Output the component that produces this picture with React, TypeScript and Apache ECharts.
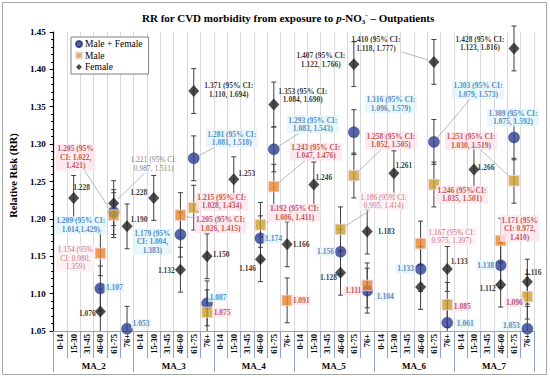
import React, { useEffect, useRef } from 'react';
import * as echarts from 'echarts';

// ---- categories ----
const AGE_BANDS = ['0-14', '15-30', '31-45', '46-60', '61-75', '76+'];
const LAGS = ['MA_2', 'MA_3', 'MA_4', 'MA_5', 'MA_6', 'MA_7'];
const CATEGORIES = LAGS.flatMap(() => AGE_BANDS);

// ---- values (null = below the visible range 1.05) ----
const N = null;
const MF_RR = [
  N, N, N, 1.107, 1.209, 1.053,
  N, N, N, 1.179, 1.281, 1.087,
  N, N, N, 1.174, 1.293, N,
  N, N, N, 1.156, 1.316, 1.104,
  N, N, N, 1.133, 1.303, 1.061,
  N, N, N, 1.138, 1.309, 1.053,
];
const MALE_RR = [
  N, N, N, 1.154, 1.205, N,
  N, N, N, 1.205, 1.215, 1.075,
  N, N, N, 1.192, 1.243, 1.091,
  N, N, N, 1.186, 1.258, 1.111,
  N, N, N, 1.167, 1.246, 1.085,
  N, N, N, 1.171, 1.251, 1.096,
];
const FEMALE_RR = [
  N, 1.228, N, 1.076, 1.221, 1.190,
  N, 1.228, N, 1.132, 1.371, 1.150,
  N, 1.253, N, 1.146, 1.353, 1.166,
  N, 1.246, N, 1.128, 1.407, 1.183,
  N, 1.261, N, 1.109, 1.410, 1.133,
  N, 1.266, N, 1.112, 1.428, 1.116,
];

// ---- label texts ----
const MF_LABELS: Record<number, string> = {
  3: '1.107', 4: '1.209 (95% CI:\n1.014,1.429)', 5: '1.053',
  9: '1.179 (95%\nCI: 1.004,\n1.383)', 10: '1.281 (95% CI:\n1.081, 1.518)', 11: '1.087',
  15: '1.174', 16: '1.293 (95% CI:\n1.083, 1.543)',
  21: '1.156', 22: '1.316 (95% CI:\n1.096, 1.579)', 23: '1.104',
  27: '1.133', 28: '1.303 (95% CI:\n1.079, 1.573)', 29: '1.061',
  33: '1.138', 34: '1.309 (95% CI:\n1.075, 1.592)', 35: '1.053',
};
const MALE_LABELS: Record<number, string> = {
  3: '1.154 (95%\nCI: 0.980,\n1.359)', 4: '1.205 (95%\nCI: 1.022,\n1.421)',
  9: '1.205 (95% CI:\n1.026, 1.415)', 10: '1.215 (95% CI:\n1.028, 1.434)', 11: '1.075',
  15: '1.192 (95% CI:\n1.006, 1.411)', 16: '1.243 (95% CI:\n1.047, 1.476)', 17: '1.091',
  21: '1.186 (95% CI:\n0.995, 1.414)', 22: '1.258 (95% CI:\n1.052, 1.505)', 23: '1.111',
  27: '1.167 (95% CI:\n0.975, 1.397)', 28: '1.246 (95% CI:\n1.035, 1.501)', 29: '1.085',
  33: '1.171 (95%\nCI: 0.972,\n1.410)', 34: '1.251 (95% CI:\n1.030, 1.519)', 35: '1.096',
};
const FEMALE_LABELS: Record<number, string> = {
  1: '1.228', 3: '1.076', 4: '1.221 (95% CI:\n0.987, 1.511)', 5: '1.190',
  7: '1.228', 9: '1.132', 10: '1.371 (95% CI:\n1.110, 1.694)', 11: '1.150',
  13: '1.253', 15: '1.146', 16: '1.353 (95% CI:\n1.084, 1.690)', 17: '1.166',
  19: '1.246', 21: '1.128', 22: '1.407 (95% CI:\n1.122, 1.766)', 23: '1.183',
  25: '1.261', 28: '1.410 (95% CI:\n1.118, 1.777)', 29: '1.133',
  31: '1.266', 33: '1.112', 34: '1.428 (95% CI:\n1.123, 1.816)', 35: '1.116',
};
// non-significant labels (drawn in plain weight)
const MALE_NS = [3, 21, 27];
const FEMALE_NS = [4];

// ---- layout / style (offsets of label centre from marker centre, leader line flag) ----
type Off = [number, number, boolean?];
const MF_POS: Record<number, Off> = {
  3: [14, -1], 4: [-33, 13], 5: [14, -5],
  9: [-28, 7], 10: [38, -20, true], 11: [11, -6],
  15: [13, 0], 16: [39, -25, true],
  21: [-15, 0], 22: [37, -28], 23: [18, 6],
  27: [-15, 0], 28: [44, -52, true], 29: [18, 1],
  33: [-15, 0], 34: [-1, -20], 35: [-16, -3],
};
const MALE_POS: Record<number, Off> = {
  3: [-25, 5], 4: [-38, -58, true],
  9: [40, 9, true], 10: [28, -6], 11: [15, 0],
  15: [34, -12, true], 16: [42, -35, true], 17: [14, 0],
  21: [43, -28, true], 22: [37, -35, true], 23: [-14, 5],
  27: [31, -7], 28: [28, 10], 29: [15, 2],
  33: [19, -12], 34: [-43, -40, true], 35: [-13, 6],
};
const FEMALE_POS: Record<number, Off> = {
  1: [8, -10], 3: [-13, 2], 4: [40, -39, true], 5: [12, -7],
  7: [-15, -5], 9: [-14, 1], 10: [35, -1], 11: [14, -2],
  13: [13, -6], 15: [-13, 9], 16: [29, -9], 17: [14, 0],
  19: [10, -7], 21: [-12, 5], 22: [-33, -4], 23: [19, 0],
  25: [10, -8], 28: [-58, -18, true], 29: [12, -7],
  31: [12, -2], 33: [-13, 4], 34: [-34, -5], 35: [6, -9],
};
const MALE_ORANGE = [3, 9, 16, 17, 23, 27, 33];

const Y_MIN = 1.05;
const Y_MAX = 1.45;
const Y_STEP = 0.05;
const ERR_HALF = 0.03; // fixed error-bar half length used in the figure

const FONT = "'Liberation Serif', 'Times New Roman', serif";
const BLUE = '#2E3E92';
const GOLD = '#C9A02C';
const ORANGE = '#E8832A';
const AXIS_BLUE = '#8FA3CC';
const LABEL_FS = 7.5;
const LABEL_LH = 8.5;

function labelStyle(kind: 'mf' | 'm' | 'mns' | 'f' | 'fns') {
  const base: any = {
    fontFamily: FONT, fontSize: LABEL_FS, lineHeight: LABEL_LH, position: 'inside',
    align: 'center', verticalAlign: 'middle', textBorderWidth: 0, padding: [0.5, 1.5],
  };
  if (kind === 'mf') return { ...base, color: '#2F6EBA', fontWeight: 'bold', backgroundColor: '#E1F5F9' };
  if (kind === 'm') return { ...base, color: '#B22E2E', fontWeight: 'bold', backgroundColor: '#FCE4EA' };
  if (kind === 'mns') return { ...base, color: '#C0504D', fontWeight: 'normal', backgroundColor: '#FDF0F3' };
  if (kind === 'fns') return { ...base, color: '#595959', fontWeight: 'normal' };
  return { ...base, color: '#000', fontWeight: 'bold' };
}

function buildData(
  values: (number | null)[],
  labels: Record<number, string>,
  kindOf: (i: number) => any,
  colorOf?: (i: number) => string | undefined,
) {
  return values.map((v, i) => {
    if (v == null) return '-';
    const item: any = { value: v };
    if (labels[i]) {
      item.label = { show: true, formatter: labels[i], ...labelStyle(kindOf(i)) };
    } else {
      item.label = { show: false };
    }
    const c = colorOf ? colorOf(i) : undefined;
    if (c) item.itemStyle = { color: c };
    return item;
  });
}

function layoutFrom(pos: Record<number, Off>) {
  return (p: any) => {
    const o = pos[p.dataIndex];
    return o ? { dx: o[0], dy: o[1] } : {};
  };
}

// leader-line records: [categoryIndex, value, dx, dy, halfWidth, halfHeight]
function leaderRecords(values: (number | null)[], labels: Record<number, string>, pos: Record<number, Off>) {
  const out: number[][] = [];
  Object.keys(pos).forEach((k) => {
    const i = Number(k);
    const o = pos[i];
    const v = values[i];
    if (!o[2] || v == null || !labels[i]) return;
    const lines = labels[i].split('\n');
    const maxLen = Math.max(...lines.map((l) => l.length));
    out.push([i, v, o[0], o[1], maxLen * 1.72 + 1.5, (lines.length * LABEL_LH) / 2 + 0.5]);
  });
  return out;
}

export default function App() {
  const ref = useRef<HTMLDivElement>(null);
  useEffect(() => {
    if (!ref.current) return;
    const chart = echarts.init(ref.current, null, { renderer: 'svg' });

    const errData: number[][] = [];
    [MF_RR, MALE_RR, FEMALE_RR].forEach((arr) =>
      arr.forEach((v, i) => {
        if (v != null) errData.push([i, v - ERR_HALF, v + ERR_HALF]);
      }),
    );
    const leaderData = [
      ...leaderRecords(MF_RR, MF_LABELS, MF_POS),
      ...leaderRecords(MALE_RR, MALE_LABELS, MALE_POS),
      ...leaderRecords(FEMALE_RR, FEMALE_LABELS, FEMALE_POS),
    ];

    const option: any = {
      animation: false,
      backgroundColor: '#fff',
      textStyle: { fontFamily: FONT },
      title: {
        text: '{b|RR for CVD morbidity from exposure to }{i|p}{b|-NO}{s|3}{u|-}{b| \u2013 Outpatients}',
        left: 137,
        top: 6,
        textStyle: {
          rich: {
            b: { fontFamily: FONT, fontSize: 11, fontWeight: 'bold', color: '#000', lineHeight: 14 },
            i: { fontFamily: FONT, fontSize: 11, fontWeight: 'bold', fontStyle: 'italic', color: '#000', lineHeight: 14 },
            s: { fontFamily: FONT, fontSize: 7, fontWeight: 'bold', color: '#000', verticalAlign: 'bottom', lineHeight: 14 },
            u: { fontFamily: FONT, fontSize: 7, fontWeight: 'bold', color: '#000', verticalAlign: 'top', lineHeight: 14 },
          },
        },
      },
      legend: {
        data: ['Male + Female', 'Male', 'Female'],
        orient: 'vertical',
        left: 71,
        top: 37,
        itemWidth: 6,
        itemHeight: 6,
        itemGap: 1.5,
        padding: [2, 6, 2, 4],
        borderColor: '#7F7F7F',
        borderWidth: 1,
        backgroundColor: '#fff',
        textStyle: { fontFamily: FONT, fontSize: 9.5, color: '#000', padding: [0, 0, 0, -2] },
      },
      grid: { left: 42, right: 16, top: 32, bottom: 46, containLabel: false },
      xAxis: [
        {
          type: 'category',
          data: CATEGORIES,
          position: 'bottom',
          axisLine: { show: true, onZero: false, lineStyle: { color: AXIS_BLUE, width: 1 } },
          axisTick: { show: true, length: 27, lineStyle: { color: AXIS_BLUE } },
          axisLabel: { interval: 0, rotate: 90, margin: 3, fontSize: 8.5, fontWeight: 'bold', color: '#000', fontFamily: FONT },
          splitLine: { show: true, lineStyle: { color: '#D9D9D9', width: 1 } },
        },
        {
          type: 'category',
          data: LAGS,
          position: 'bottom',
          offset: 0,
          axisLine: { show: false },
          axisTick: { show: true, length: 41, lineStyle: { color: AXIS_BLUE } },
          axisLabel: { interval: 0, margin: 30, fontSize: 9, fontWeight: 'bold', color: '#000', fontFamily: FONT },
          splitLine: { show: false },
        },
      ],
      yAxis: {
        type: 'value',
        min: Y_MIN,
        max: Y_MAX,
        interval: Y_STEP,
        name: 'Relative Risk (RR)',
        nameLocation: 'middle',
        nameGap: 29,
        nameTextStyle: { fontFamily: FONT, fontSize: 10.5, fontWeight: 'bold', color: '#000', padding: [0, 0, 0, 12] },
        axisLine: { show: true, lineStyle: { color: '#000', width: 1.2 } },
        axisTick: { show: true, length: 4, lineStyle: { color: '#000' } },
        minorTick: { show: true, splitNumber: 5, length: 2.5, lineStyle: { color: '#000' } },
        axisLabel: {
          formatter: (v: number) => v.toFixed(2),
          fontFamily: FONT, fontSize: 9, fontWeight: 'bold', color: '#000', margin: 8,
        },
        splitLine: { show: false },
      },
      series: [
        {
          type: 'custom',
          name: 'errorbars',
          xAxisIndex: 0,
          z: 1,
          clip: false,
          silent: true,
          encode: { x: 0, y: [1, 2] },
          data: errData,
          renderItem: (params: any, api: any) => {
            const i = api.value(0);
            const loRaw = api.value(1);
            const lo = Math.max(loRaw, Y_MIN);
            const hi = api.value(2);
            const top = api.coord([i, hi]);
            const bot = api.coord([i, lo]);
            const w = 2.5;
            const style = { stroke: '#3F3F3F', lineWidth: 1 };
            const children: any[] = [
              { type: 'line', shape: { x1: top[0], y1: top[1], x2: bot[0], y2: bot[1] }, style },
              { type: 'line', shape: { x1: top[0] - w, y1: top[1], x2: top[0] + w, y2: top[1] }, style },
            ];
            if (loRaw >= Y_MIN) {
              children.push({ type: 'line', shape: { x1: bot[0] - w, y1: bot[1], x2: bot[0] + w, y2: bot[1] }, style });
            }
            return { type: 'group', children };
          },
        },
        {
          type: 'custom',
          name: 'leaders',
          xAxisIndex: 0,
          z: 2,
          clip: false,
          silent: true,
          encode: { x: 0, y: 1 },
          data: leaderData,
          renderItem: (params: any, api: any) => {
            const p = api.coord([api.value(0), api.value(1)]);
            const dx = api.value(2);
            const dy = api.value(3);
            const hw = api.value(4);
            const hh = api.value(5);
            const len = Math.sqrt(dx * dx + dy * dy) || 1;
            const ux = dx / len;
            const uy = dy / len;
            const t = Math.min(dx !== 0 ? hw / Math.abs(dx) : Infinity, dy !== 0 ? hh / Math.abs(dy) : Infinity);
            const ex = p[0] + dx - dx * t;
            const ey = p[1] + dy - dy * t;
            return {
              type: 'line',
              shape: { x1: p[0] + ux * 6, y1: p[1] + uy * 6, x2: ex, y2: ey },
              style: { stroke: '#A6A6A6', lineWidth: 0.8 },
            };
          },
        },
        {
          type: 'scatter',
          name: 'Female',
          xAxisIndex: 0,
          z: 3,
          symbol: 'diamond',
          symbolSize: [11, 12],
          itemStyle: { color: '#1F1F1F' },
          data: buildData(FEMALE_RR, FEMALE_LABELS, (i) => (FEMALE_NS.includes(i) ? 'fns' : 'f')),
          labelLayout: layoutFrom(FEMALE_POS),
        },
        {
          type: 'scatter',
          name: 'Male + Female',
          xAxisIndex: 0,
          z: 4,
          symbol: 'circle',
          symbolSize: 11,
          itemStyle: { color: BLUE, borderColor: '#1F2A6B', borderWidth: 0.5 },
          data: buildData(MF_RR, MF_LABELS, () => 'mf'),
          labelLayout: layoutFrom(MF_POS),
        },
        {
          type: 'scatter',
          name: 'Male',
          xAxisIndex: 0,
          z: 5,
          symbol: 'rect',
          symbolSize: 10.5,
          itemStyle: { color: GOLD, borderColor: '#F6CCD6', borderWidth: 1 },
          data: buildData(
            MALE_RR, MALE_LABELS,
            (i) => (MALE_NS.includes(i) ? 'mns' : 'm'),
            (i) => (MALE_ORANGE.includes(i) ? ORANGE : undefined),
          ),
          labelLayout: layoutFrom(MALE_POS),
        },
      ],
      graphic: [
        {
          type: 'rect',
          z: 100,
          silent: true,
          shape: { x: 2.5, y: 2.5, width: 544, height: 372 },
          style: { fill: 'none', stroke: '#A6A6A6', lineWidth: 1 },
        },
      ],
    };
    chart.setOption(option);
    return () => chart.dispose();
  }, []);

  return (
    <div
      ref={ref}
      style={{ position: 'absolute', left: 0, top: 0, width: 550, height: 377 }}
    />
  );
}
